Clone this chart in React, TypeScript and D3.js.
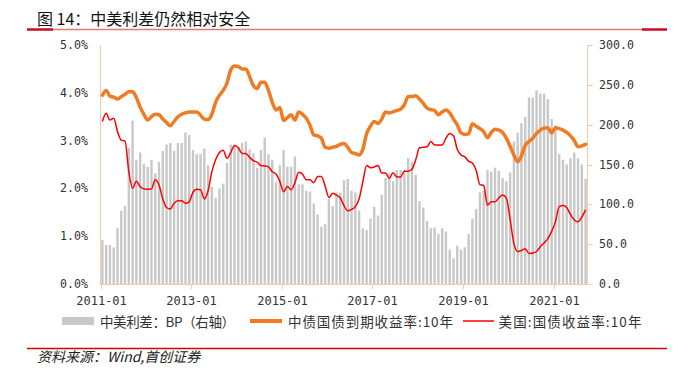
import React from "react";
import * as d3 from "d3";

// Monthly categories 2011-01 .. 2021-09
const months: string[] = d3.timeMonth
  .range(new Date(2011, 0, 1), new Date(2021, 9, 1))
  .map(d3.timeFormat("%Y-%m"));

const xTickLabels = ["2011-01", "2013-01", "2015-01", "2017-01", "2019-01", "2021-01"];
const leftTicks = [0, 1, 2, 3, 4, 5];
const rightTicks = [0, 50, 100, 150, 200, 250, 300];

// 中美利差 BP (right axis)
const spreadBP = [
  55, 49, 49, 46, 70, 92, 98, 171, 205, 156,
  165, 151, 147, 156, 139, 153, 167, 175, 177, 167,
  177, 177, 190, 187, 168, 163, 163, 170, 149, 122,
  108, 120, 126, 152, 175, 175, 172, 177, 179, 169,
  164, 146, 168, 184, 163, 156, 128, 149, 168, 147,
  147, 160, 125, 125, 117, 116, 101, 87, 72, 75,
  107, 98, 115, 115, 130, 132, 117, 115, 92, 70,
  68, 82, 97, 86, 112, 133, 139, 129, 143, 143,
  143, 158, 153, 137, 104, 96, 79, 70, 71, 63,
  70, 66, 43, 32, 48, 43, 46, 63, 82, 94,
  115, 117, 143, 141, 146, 142, 133, 129, 140, 179,
  190, 202, 210, 234, 234, 243, 239, 239, 232, 207,
  199, 163, 156, 150, 158, 165, 158, 150, 132,
];

// 中债国债到期收益率:10年 (%)
const cn10y = [
  3.95, 4.05, 3.93, 3.91, 3.87, 3.92, 3.97, 4.02, 4.02, 3.9,
  3.7, 3.55, 3.43, 3.5, 3.55, 3.54, 3.45, 3.38, 3.31, 3.4,
  3.5, 3.55, 3.58, 3.6, 3.6, 3.6, 3.53, 3.45, 3.44, 3.55,
  3.8, 3.95, 4.05, 4.2, 4.48, 4.56, 4.55, 4.5, 4.5, 4.34,
  4.15, 4.09, 4.22, 4.22, 4.05, 3.8, 3.64, 3.69, 3.42, 3.48,
  3.54, 3.43, 3.6, 3.55, 3.47, 3.32, 3.12, 3.1, 3.05, 2.86,
  2.84, 2.86, 2.88, 2.92, 2.94, 2.86, 2.75, 2.73, 2.7, 2.82,
  3.15, 3.3, 3.4, 3.36, 3.45, 3.6, 3.58, 3.6, 3.63, 3.66,
  3.75, 3.92, 3.92, 3.94, 3.87, 3.78, 3.68, 3.65, 3.63, 3.54,
  3.6, 3.64, 3.58, 3.45, 3.33, 3.16, 3.13, 3.14, 3.35, 3.3,
  3.25, 3.19, 3.06, 3.17, 3.24, 3.22, 3.17, 3.05, 2.88, 2.7,
  2.56, 2.68, 2.9, 2.98, 3.05, 3.15, 3.22, 3.26, 3.27, 3.16,
  3.27, 3.25, 3.22, 3.17, 3.1, 3.0, 2.87, 2.89, 2.92,
];

// 美国:国债收益率:10年 (%)
const us10y = [
  3.4, 3.57, 3.43, 3.47, 3.19, 3.01, 2.99, 2.35, 2.0, 2.15,
  2.04, 1.99, 1.98, 1.99, 2.18, 2.07, 1.78, 1.6, 1.57, 1.69,
  1.74, 1.74, 1.69, 1.72, 1.92, 1.98, 1.97, 1.78, 1.95, 2.35,
  2.6, 2.75, 2.8, 2.63, 2.75, 2.9, 2.85, 2.73, 2.73, 2.65,
  2.58, 2.55, 2.48, 2.47, 2.45, 2.35, 2.3, 2.15, 1.93, 2.04,
  1.97, 2.12, 2.34, 2.3, 2.18, 2.18, 2.12, 2.25, 2.25, 2.05,
  1.81, 1.9, 1.86, 1.8, 1.64, 1.53, 1.56, 1.62, 1.78, 2.14,
  2.48, 2.43, 2.45, 2.48, 2.32, 2.32, 2.21, 2.33, 2.24, 2.24,
  2.36, 2.36, 2.4, 2.6, 2.85, 2.86, 2.87, 2.98, 2.91, 2.91,
  2.91, 3.05, 3.15, 3.1, 2.82, 2.7, 2.66, 2.57, 2.53, 2.38,
  2.08, 2.06, 1.65, 1.72, 1.72, 1.8, 1.86, 1.8, 1.35, 0.85,
  0.68, 0.7, 0.74, 0.64, 0.65, 0.68, 0.78, 0.86, 0.95, 1.1,
  1.3, 1.62, 1.64, 1.6, 1.45, 1.34, 1.3, 1.4, 1.55,
];

const legendLabels = ["中美利差：BP（右轴）", "中债国债到期收益率:10年", "美国:国债收益率:10年"];

const W = 677;
const H = 377;
const PL = 100.5;
const PR = 587.5;
const PT = 45;
const PB = 284;

const AXIS = "#F6C8A8";
const BAR = "#C8C8C8";
const ORANGE = "#EF7B22";
const RED = "#FF0000";
const MONO = "'DejaVu Sans Mono', monospace";
const CJK = "'Noto Sans CJK SC', 'Noto Sans', sans-serif";

export default function App() {
  const x = d3.scaleBand<string>().domain(months).range([PL, PR]).padding(0);
  const bw = x.bandwidth();
  const cx = (m: string) => (x(m) as number) + bw / 2;
  const yL = d3.scaleLinear().domain([0, 5]).range([PB, PT]);
  const yR = d3.scaleLinear().domain([0, 300]).range([PB, PT]);

  const line = d3
    .line<number>()
    .x((_, i) => cx(months[i]))
    .y((v) => yL(v))
    .curve(d3.curveMonotoneX);

  const barW = 2.4;

  return (
    <svg
      width={W}
      height={H}
      viewBox={`0 0 ${W} ${H}`}
      style={{ position: "absolute", left: 0, top: 0, background: "#fff" }}
    >
      <rect x={0} y={0} width={W} height={H} fill="#fff" />
      {/* Title */}
      <text x={37} y={25} fontFamily={CJK} fontSize={16} fill="#111">
        图 14：中美利差仍然相对安全
      </text>
      <line x1={27} x2={667} y1={29.5} y2={29.5} stroke="#E57A7A" strokeWidth={1.5} />
      <line x1={27} x2={53} y1={29.5} y2={29.5} stroke="#C8102E" strokeWidth={2.5} />
      <line x1={642} x2={667} y1={29.5} y2={29.5} stroke="#C8102E" strokeWidth={2.5} />

      {/* Bars */}
      <g>
        {spreadBP.map((v, i) => (
          <rect
            key={months[i]}
            x={cx(months[i]) - barW / 2}
            y={yR(v)}
            width={barW}
            height={PB - yR(v)}
            fill={BAR}
          />
        ))}
      </g>

      {/* Axes */}
      <line x1={PL} x2={PL} y1={PT} y2={PB} stroke={AXIS} strokeWidth={1} />
      <line x1={PR} x2={PR} y1={PT} y2={PB} stroke={AXIS} strokeWidth={1} />
      <line x1={PL} x2={PR} y1={PB + 0.5} y2={PB + 0.5} stroke={AXIS} strokeWidth={1} />

      {leftTicks.map((t) => (
        <text
          key={"l" + t}
          x={88}
          y={yL(t)}
          textAnchor="end"
          dominantBaseline="central"
          fontFamily={MONO}
          fontSize={11.6}
          fill="#333"
        >
          {d3.format(".1f")(t) + "%"}
        </text>
      ))}
      {rightTicks.map((t) => (
        <g key={"r" + t}>
          <line x1={PR} x2={PR + 5} y1={Math.round(yR(t)) + 0.5} y2={Math.round(yR(t)) + 0.5} stroke={AXIS} />
          <text
            x={599}
            y={yR(t)}
            dominantBaseline="central"
            fontFamily={MONO}
            fontSize={11.6}
            fill="#333"
          >
            {d3.format(".1f")(t)}
          </text>
        </g>
      ))}
      {xTickLabels.map((m) => {
        const px = Math.round(x(m) as number) + 0.5;
        return (
          <g key={m}>
            <line x1={px} x2={px} y1={PB} y2={PB + 5} stroke={AXIS} />
            <text
              x={px}
              y={301}
              textAnchor="middle"
              dominantBaseline="central"
              fontFamily={MONO}
              fontSize={12}
              fill="#333"
            >
              {m}
            </text>
          </g>
        );
      })}

      {/* Lines */}
      <path d={line(cn10y) || ""} fill="none" stroke={ORANGE} strokeWidth={3.5} strokeLinejoin="round" strokeLinecap="round" />
      <path d={line(us10y) || ""} fill="none" stroke={RED} strokeWidth={1.5} strokeLinejoin="round" />

      {/* Legend */}
      <g fontFamily={CJK} fontSize={13.5} fill="#333">
        <rect x={62} y={317} width={32} height={8} fill={BAR} />
        <text x={100} y={321} dominantBaseline="central" textLength={135} lengthAdjust="spacing">
          {legendLabels[0]}
        </text>
        <line x1={250} x2={282} y1={321} y2={321} stroke={ORANGE} strokeWidth={4} />
        <text x={288} y={321} dominantBaseline="central" textLength={165} lengthAdjust="spacing">
          {legendLabels[1]}
        </text>
        <line x1={463} x2={494} y1={321} y2={321} stroke={RED} strokeWidth={1.5} />
        <text x={498.5} y={321} dominantBaseline="central" textLength={143} lengthAdjust="spacing">
          {legendLabels[2]}
        </text>
      </g>

      {/* Source */}
      <line x1={27} x2={667} y1={348.5} y2={348.5} stroke="#D40000" strokeWidth={1.5} />
      <text x={37} y={362} fontFamily={CJK} fontSize={14} fontStyle="italic" fill="#222">
        资料来源：Wind,首创证券
      </text>
    </svg>
  );
}
